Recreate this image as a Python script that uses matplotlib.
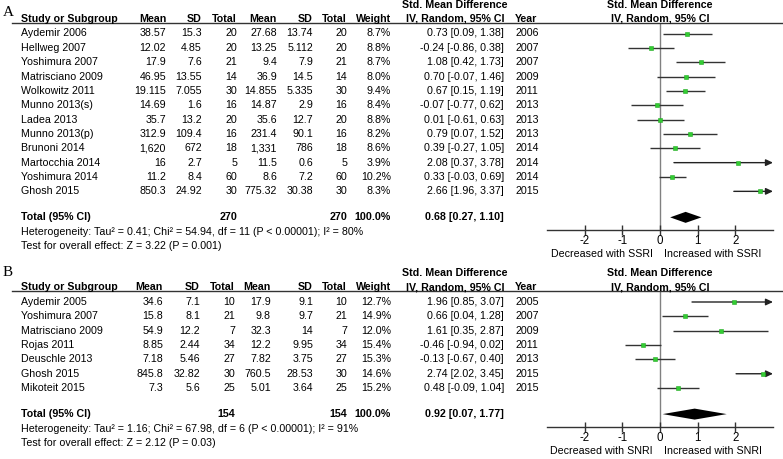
import matplotlib
matplotlib.use("Agg")
import matplotlib.pyplot as plt
from matplotlib.lines import Line2D

plt.rcParams['font.family'] = ['Liberation Sans', 'DejaVu Sans']

# ---------------- data: panel A (SSRI) ----------------
studies_a = ["Aydemir 2006", "Hellweg 2007", "Yoshimura 2007", "Matrisciano 2009",
             "Wolkowitz 2011", "Munno 2013(s)", "Ladea 2013", "Munno 2013(p)",
             "Brunoni 2014", "Martocchia 2014", "Yoshimura 2014", "Ghosh 2015"]
mean_e_a = ["38.57", "12.02", "17.9", "46.95", "19.115", "14.69", "35.7", "312.9",
            "1,620", "16", "11.2", "850.3"]
sd_e_a = ["15.3", "4.85", "7.6", "13.55", "7.055", "1.6", "13.2", "109.4",
          "672", "2.7", "8.4", "24.92"]
n_e_a = [20, 20, 21, 14, 30, 16, 20, 16, 18, 5, 60, 30]
mean_c_a = ["27.68", "13.25", "9.4", "36.9", "14.855", "14.87", "35.6", "231.4",
            "1,331", "11.5", "8.6", "775.32"]
sd_c_a = ["13.74", "5.112", "7.9", "14.5", "5.335", "2.9", "12.7", "90.1",
          "786", "0.6", "7.2", "30.38"]
n_c_a = [20, 20, 21, 14, 30, 16, 20, 16, 18, 5, 60, 30]
weight_a = ["8.7%", "8.8%", "8.7%", "8.0%", "9.4%", "8.4%", "8.8%", "8.2%",
            "8.6%", "3.9%", "10.2%", "8.3%"]
smd_a = [0.73, -0.24, 1.08, 0.70, 0.67, -0.07, 0.01, 0.79, 0.39, 2.08, 0.33, 2.66]
lo_a = [0.09, -0.86, 0.42, -0.07, 0.15, -0.77, -0.61, 0.07, -0.27, 0.37, -0.03, 1.96]
hi_a = [1.38, 0.38, 1.73, 1.46, 1.19, 0.62, 0.63, 1.52, 1.05, 3.78, 0.69, 3.37]
year_a = [2006, 2007, 2007, 2009, 2011, 2013, 2013, 2013, 2014, 2014, 2014, 2015]
total_a = (270, 270, 0.68, 0.27, 1.10)
het_a = "Heterogeneity: Tau\u00b2 = 0.41; Chi\u00b2 = 54.94, df = 11 (P < 0.00001); I\u00b2 = 80%"
test_a = "Test for overall effect: Z = 3.22 (P = 0.001)"
dir_a = ("Decreased with SSRI", "Increased with SSRI")

# ---------------- data: panel B (SNRI) ----------------
studies_b = ["Aydemir 2005", "Yoshimura 2007", "Matrisciano 2009", "Rojas 2011",
             "Deuschle 2013", "Ghosh 2015", "Mikoteit 2015"]
mean_e_b = ["34.6", "15.8", "54.9", "8.85", "7.18", "845.8", "7.3"]
sd_e_b = ["7.1", "8.1", "12.2", "2.44", "5.46", "32.82", "5.6"]
n_e_b = [10, 21, 7, 34, 27, 30, 25]
mean_c_b = ["17.9", "9.8", "32.3", "12.2", "7.82", "760.5", "5.01"]
sd_c_b = ["9.1", "9.7", "14", "9.95", "3.75", "28.53", "3.64"]
n_c_b = [10, 21, 7, 34, 27, 30, 25]
weight_b = ["12.7%", "14.9%", "12.0%", "15.4%", "15.3%", "14.6%", "15.2%"]
smd_b = [1.96, 0.66, 1.61, -0.46, -0.13, 2.74, 0.48]
lo_b = [0.85, 0.04, 0.35, -0.94, -0.67, 2.02, -0.09]
hi_b = [3.07, 1.28, 2.87, 0.02, 0.40, 3.45, 1.04]
year_b = [2005, 2007, 2009, 2011, 2013, 2015, 2015]
total_b = (154, 154, 0.92, 0.07, 1.77)
het_b = "Heterogeneity: Tau\u00b2 = 1.16; Chi\u00b2 = 67.98, df = 6 (P < 0.00001); I\u00b2 = 91%"
test_b = "Test for overall effect: Z = 2.12 (P = 0.03)"
dir_b = ("Decreased with SNRI", "Increased with SNRI")

xticks = [-2, -1, 0, 1, 2]

# ---------------- figure ----------------
W, H = 783, 459
fig = plt.figure(figsize=(W / 100, H / 100), dpi=100)
FS = 7.7


def fx(px):
    return px / W


def fy(py):
    return 1 - py / H


def txt(x, y, s, ha='left', bold=False, size=FS, **kw):
    fig.text(fx(x), fy(y), s, ha=ha, va='center', fontsize=size,
             fontweight='bold' if bold else 'normal', **kw)


def panel(letter, letter_y, top, cols, studies, me, se, ne, mc, sc, nc, wt, smd, lo, hi,
          yr, total, het, test, dirs):
    # layout (pixel positions)
    y_smd = top
    y_head = top + 13.5
    y_line = top + 17.5
    y_row0 = top + 28.5
    pitch = 14.35
    n = len(studies)
    y_total = y_row0 + pitch * (n - 1) + 26
    y_het = y_total + 14.5
    y_test = y_het + 14.5
    y_axis = y_total + 12.5
    c_me, c_se, c_ne, c_mc, c_sc, c_nc = cols
    c_w, c_ci, c_yr, c_study = 391, 504, 515, 21
    x0, x1 = 547, 773

    fig.text(fx(3), fy(letter_y), letter, ha='left', va='center', fontsize=11,
             family=['Liberation Serif', 'DejaVu Serif'])
    txt(455, y_smd, "Std. Mean Difference", ha='center', bold=True)
    txt(660, y_smd, "Std. Mean Difference", ha='center', bold=True)
    txt(c_study, y_head, "Study or Subgroup", bold=True)
    for c, s in zip(cols, ["Mean", "SD", "Total", "Mean", "SD", "Total"]):
        txt(c, y_head, s, ha='right', bold=True)
    txt(c_w, y_head, "Weight", ha='right', bold=True)
    txt(c_ci, y_head, "IV, Random, 95% CI", ha='right', bold=True)
    txt(c_yr, y_head, "Year", bold=True)
    txt(660, y_head, "IV, Random, 95% CI", ha='center', bold=True)
    fig.add_artist(Line2D([fx(12), 1], [fy(y_line), fy(y_line)], color='#333333', lw=1.0))

    for i in range(n):
        y = y_row0 + pitch * i
        txt(c_study, y, studies[i])
        txt(c_me, y, me[i], ha='right')
        txt(c_se, y, se[i], ha='right')
        txt(c_ne, y, str(ne[i]), ha='right')
        txt(c_mc, y, mc[i], ha='right')
        txt(c_sc, y, sc[i], ha='right')
        txt(c_nc, y, str(nc[i]), ha='right')
        txt(c_w, y, wt[i], ha='right')
        txt(c_ci, y, f"{smd[i]:.2f} [{lo[i]:.2f}, {hi[i]:.2f}]", ha='right')
        txt(c_yr, y, str(yr[i]))

    tn_e, tn_c, t_est, t_lo, t_hi = total
    txt(c_study, y_total, "Total (95% CI)", bold=True)
    txt(c_ne, y_total, str(tn_e), ha='right', bold=True)
    txt(c_nc, y_total, str(tn_c), ha='right', bold=True)
    txt(c_w, y_total, "100.0%", ha='right', bold=True)
    txt(c_ci, y_total, f"{t_est:.2f} [{t_lo:.2f}, {t_hi:.2f}]", ha='right', bold=True)
    txt(c_study, y_het, het)
    txt(c_study, y_test, test)

    # forest axes: y in pixel units (top = header rule, bottom = x axis)
    ax = fig.add_axes([fx(x0), fy(y_axis), fx(x1) - fx(x0), (y_axis - y_line) / H])
    ax.set_xlim(-3, 3)
    ax.set_ylim(y_axis, y_line)
    ax.patch.set_alpha(0)
    for s in ('top', 'left', 'right'):
        ax.spines[s].set_visible(False)
    ax.spines['bottom'].set_color('#333333')
    ax.spines['bottom'].set_linewidth(1.0)
    ax.set_yticks([])
    ax.set_xticks(xticks)
    ax.set_xticklabels([str(t) for t in xticks])
    ax.tick_params(axis='x', direction='inout', length=7, width=1.0, color='#333333',
                   labelsize=8.3, pad=0.5)
    ax.axvline(0, color='#808080', lw=1.0, zorder=1)
    xmax = ax.get_xlim()[1]
    for i in range(n):
        y = y_row0 + pitch * i
        if hi[i] > xmax:
            ax.annotate('', xy=(xmax, y), xytext=(lo[i], y),
                        arrowprops=dict(arrowstyle='-|>,head_length=0.6,head_width=0.28',
                                        color='#222222', lw=1.0, shrinkA=0, shrinkB=0,
                                        mutation_scale=7),
                        annotation_clip=False)
        else:
            ax.plot([lo[i], hi[i]], [y, y], color='#333333', lw=1.0, zorder=2,
                    solid_capstyle='butt')
        ax.plot(smd[i], y, 's', color='#33cc33', mec='#22aa22', mew=0.4, ms=3.0, zorder=3)
    dh = 5.5
    ax.fill([t_lo, t_est, t_hi, t_est], [y_total, y_total - dh, y_total, y_total + dh],
            color='black', lw=0, zorder=3)
    txt(653, y_axis + 24, dirs[0], ha='right')
    txt(664, y_axis + 24, dirs[1], ha='left')


panel("A", 12, 5, (166, 202, 237, 277, 313, 347), studies_a, mean_e_a, sd_e_a, n_e_a,
      mean_c_a, sd_c_a, n_c_a, weight_a, smd_a, lo_a, hi_a, year_a, total_a,
      het_a, test_a, dir_a)
panel("B", 273, 273.5, (163, 200, 235, 271, 313, 347), studies_b, mean_e_b, sd_e_b, n_e_b,
      mean_c_b, sd_c_b, n_c_b, weight_b, smd_b, lo_b, hi_b, year_b, total_b,
      het_b, test_b, dir_b)

fig.savefig("out.png", dpi=100, facecolor='white')
